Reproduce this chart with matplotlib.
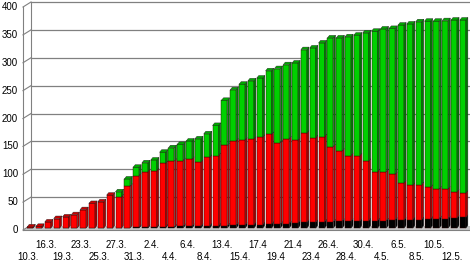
import matplotlib
matplotlib.use('Agg')
import matplotlib.pyplot as plt
from matplotlib.collections import PolyCollection
import numpy as np

plt.rcParams['font.family'] = ['Liberation Sans', 'DejaVu Sans']

# data
dates = ['10.3.', '13.3.', '16.3.', '18.3.', '19.3.', '21.3.', '23.3.', '24.3.', '25.3.', '26.3.',
         '27.3.', '30.3.', '31.3.', '1.4.', '2.4.', '3.4.', '4.4.', '5.4.', '6.4.', '7.4.',
         '8.4.', '10.4.', '13.4.', '14.4.', '15.4.', '16.4.', '17.4', '18.4', '19.4', '20.4',
         '21.4', '22.4', '23.4', '24.4', '26.4.', '27.4.', '28.4.', '29.4.', '30.4.', '2.5.',
         '4.5.', '5.5.', '6.5.', '7.5.', '8.5.', '9.5.', '10.5.', '11.5.', '12.5.', '13.5.']
deaths = [0, 0, 0, 0, 0, 0, 0, 0, 0, 0,
          0, 0, 1, 1, 2, 2, 2, 3, 3, 3,
          4, 4, 4, 5, 5, 6, 6, 7, 7, 8,
          9, 10, 10, 11, 11, 12, 12, 12, 13, 13,
          13, 14, 14, 15, 15, 16, 17, 17, 18, 19]
active = [2, 3, 11, 17, 20, 24, 33, 44, 47, 59,
          56, 75, 93, 100, 101, 114, 118, 118, 120, 115,
          123, 126, 144, 151, 153, 154, 157, 161, 146, 152,
          148, 160, 152, 153, 135, 126, 118, 118, 107, 88,
          88, 82, 67, 62, 63, 57, 53, 53, 47, 44]
recovered = [0, 0, 0, 0, 0, 0, 0, 0, 0, 0,
             9, 13, 15, 16, 19, 20, 24, 29, 33, 42,
             42, 54, 81, 92, 100, 104, 106, 114, 133, 133,
             139, 150, 161, 168, 195, 203, 213, 216, 230, 252,
             256, 262, 283, 289, 292, 298, 301, 302, 308, 310]
yticks = [0, 50, 100, 150, 200, 250, 300, 350, 400]

W, H = 470, 263
fig = plt.figure(figsize=(W / 100, H / 100), dpi=100)
ax = fig.add_axes([0, 0, 1, 1])
ax.axis('off')

# pixel scales
ppx = 8.83      # px per bar
ppy = 0.5575    # px per unit
x0 = 30.2       # first bar centre, px
base = 35       # bar baseline, px from bottom
ax.set_xlim(-x0 / ppx, (W - x0) / ppx)
ax.set_ylim(-base / ppy, (H - base) / ppy)
xmax = (W - x0) / ppx

def px(d):
    return d / ppx

def py(d):
    return d / ppy

# walls and floor
xf = px(23 - x0)   # front edge of left wall
xb = px(31 - x0)   # back wall
fo = py(-2)        # front offset
bo = py(3)         # back offset
ymax = yticks[-1]

floor = plt.Polygon([(xf, fo), (xmax, fo), (xmax, bo - py(0.5)), (xb, bo - py(0.5))],
                    closed=True, fc='#c4c4c4', ec='none', zorder=1)
ax.add_patch(floor)
ax.plot([xf, xmax], [fo, fo], color='#808080', lw=0.8, zorder=1)

for v in yticks:
    ax.plot([xf, xb], [v + fo, v + bo], color='#808080', lw=0.8, zorder=1)
    if v > 0:
        ax.plot([xb, xmax], [v + bo, v + bo], color='#808080', lw=0.9, zorder=1)
ax.plot([xf, xf], [fo, ymax + fo], color='#808080', lw=0.8, zorder=1)
ax.plot([xb, xb], [bo, ymax + bo], color='#808080', lw=0.8, zorder=1)

# bars
x = np.arange(len(dates))
w = px(6)
dx, dy = px(2), py(2.5)
series = [(deaths, '#000000', '#000000', '#202020'),
          (active, '#ff0000', '#a80000', '#c80000'),
          (recovered, '#00d000', '#007a00', '#00a800')]

bottom = np.zeros(len(x))
totals = np.array(deaths) + np.array(active) + np.array(recovered)
for vals, front, side, top in series:
    vals = np.array(vals, dtype=float)
    ax.bar(x, vals, width=w, bottom=bottom, color=front, edgecolor='#300000',
           linewidth=0.3, zorder=3)
    sides = []
    tops = []
    for i in x:
        if vals[i] <= 0:
            continue
        xl = i - w / 2
        xr = i + w / 2
        b = bottom[i]
        t = bottom[i] + vals[i]
        sides.append([(xr, b), (xr, t), (xr + dx, t + dy), (xr + dx, b + dy)])
        if np.isclose(t, totals[i]):
            tops.append([(xl, t), (xr, t), (xr + dx, t + dy), (xl + dx, t + dy)])
    ax.add_collection(PolyCollection(sides, facecolors=side, edgecolors='#202020',
                                     linewidths=0.3, zorder=3))
    ax.add_collection(PolyCollection(tops, facecolors=top, edgecolors='#202020',
                                     linewidths=0.3, zorder=4))
    bottom = bottom + vals

# y labels
for v in yticks:
    ax.text(px(18 - x0), v + fo, str(v), ha='right', va='center', fontsize=7,
            color='black')

# x labels, every other bar, two rows
for i in range(0, len(dates), 2):
    row = (i // 2) % 2
    ypos = py(263 - 257 - base) if row == 0 else py(263 - 245 - base)
    ax.text(i - px(2), ypos, dates[i], ha='center', va='center', fontsize=7,
            color='black')

fig.savefig('out.png', dpi=100)
